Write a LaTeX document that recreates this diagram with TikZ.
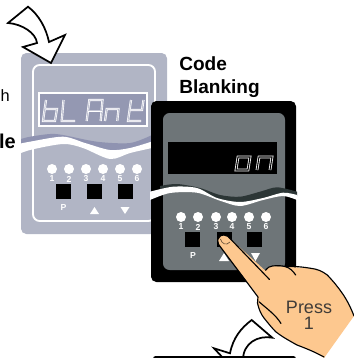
\documentclass[tikz,border=0pt]{standalone}
\usepackage{fontspec}
\setmainfont{Liberation Sans}
\definecolor{graymeter}{HTML}{B1B5C5}
\definecolor{graydisp}{HTML}{9498B2}
\definecolor{grayband}{HTML}{8F93B1}
\definecolor{blkinner}{HTML}{6E7578}
\definecolor{blkband}{HTML}{2C3636}
\definecolor{handfill}{HTML}{FDC88F}
\definecolor{presstxt}{HTML}{403C38}
\tikzset{
  curvedarrow/.style={draw=black,fill=white,line width=1.3pt,line join=miter},
  btn/.style={fill=black},
  led/.style={fill=white},
  ledlabel/.style={text=white,inner sep=0pt,font=\fontsize{6.5}{6.5}\selectfont\bfseries},
  keymark/.style={fill=white},
  segA/.style={draw=white,line width=.5pt,double=graydisp!55!white,double distance=.65pt,line join=miter},
  segB/.style={draw=white,line width=.6pt,double=black,double distance=.8pt,line join=miter},
  heading/.style={inner sep=0pt,anchor=base west,font=\fontsize{14.3}{16}\selectfont\bfseries},
  presslabel/.style={inner sep=0pt,anchor=base,text=presstxt,font=\fontsize{13.5}{16}\selectfont},
  handline/.style={draw=black,line width=.85pt,line cap=round,line join=round}
}
\begin{document}
\begin{tikzpicture}[x=.75pt,y=-.75pt]
\useasboundingbox (0,0) rectangle (354,358);
\clip (0,0) rectangle (354,358);
% clipped side labels
\node[inner sep=0pt,anchor=base east,font=\fontsize{12.3}{14}\selectfont] (frag1) at (10,101) {h};
\node[inner sep=0pt,anchor=base east,font=\fontsize{15}{16}\selectfont\bfseries] (frag2) at (16,148) {le};
% gray meter
\fill[graymeter,rounded corners=4pt] (21,53) rectangle (167,234);
\draw[white,line width=1.4pt,rounded corners=5pt] (33,65) rectangle (155,221);
\draw[white,fill=graydisp,line width=.8pt] (39,93) rectangle (147,126);
% bLAnt
\draw[segA] (46,100) -- (43,121) -- (55,121) -- (57,109) -- (44.5,109);
\draw[segA] (63.5,100) -- (61.7,121) -- (75,121);
\draw[segA] (86.7,121) -- (89.3,100) -- (102.5,100) -- (100.7,121);
\draw[segA] (88,110.7) -- (101.5,110.7);
\draw[segA] (105,121) -- (106.7,109) -- (118.5,109) -- (117.3,121);
\draw[segA] (131,100) -- (128,121) -- (141,121);
\draw[segA] (129.5,110) -- (142,110) -- (143.5,100);
% gray wave
\fill[grayband] plot[smooth] coordinates {(21,139) (30,136.7) (50,134) (63,135) (97,141.7) (130,143) (152,135)} -- (152,143) -- plot[smooth] coordinates {(152,143) (130,149) (110,151) (85,144) (63,137) (30,142) (21,144)} -- cycle;
\fill[white] plot[smooth] coordinates {(14,145) (30,141.7) (63,136.7) (85,143) (110,150) (130,148) (152,141.5)} -- plot[smooth] coordinates {(152,148) (130,153) (110,159) (83,148) (63,144) (30,150) (14,156)} -- cycle;
% gray meter keys
\foreach \x/\n [count=\i] in {52/1,69/2,86/3,103/4,120/5,137/6}{
  \fill[led] (\x,169) circle[radius=5];
  \node[ledlabel] (ga\i) at (\x,179) {\n};
}
\fill[btn] (56,184) rectangle (71,199);
\fill[btn] (87,184) rectangle (102,199);
\fill[btn] (118,184) rectangle (133,199);
\node[ledlabel] (gp) at (63.5,208) {P};
\fill[keymark] (94.5,207) -- (99,214) -- (90,214) -- cycle;
\fill[keymark] (120.5,207) -- (129.5,207) -- (125,214) -- cycle;
% top arrow
\draw[curvedarrow] (8,23) -- (28,6.7) .. controls (39,15) and (46,28) .. (49,42) -- (65,35) -- (51,63) -- (23,47) -- (37,43) .. controls (36,33) and (22,24) .. (8,23) -- cycle;
% heading
\node[heading] (code) at (179,70.7) {Code};
\node[heading] (blank) at (179,93.3) {Blanking};
% black meter
\fill[black,rounded corners=4pt] (151,101) rectangle (296,282);
\fill[blkinner,rounded corners=5pt] (163,113) rectangle (285,270);
\fill[black] (168,142) rectangle (277,174);
% on
\draw[segB] (236,170) -- (238,157) -- (250,157) -- (248,170) -- cycle;
\draw[segB] (257,170) -- (259,157) -- (272,157) -- (270,170);
% black wave
\fill[blkband] plot[smooth] coordinates {(160,186) (177,184) (200,188) (220,195) (240,196.7) (260,191.7) (277,187.3) (297,191.7)} -- plot[smooth] coordinates {(297,196) (283,193.7) (263,199) (240,203) (217,199) (197,189) (173,187.7) (160,190)} -- cycle;
\fill[white] plot[smooth] coordinates {(150,191.7) (173,186.7) (197,188) (217,198) (240,202) (263,198) (283,192.7) (297,195)} -- plot[smooth] coordinates {(297,200) (283,196) (263,200) (240,206) (220,200.7) (197,192.7) (170,193) (150,200)} -- cycle;
% black meter keys
\foreach \x/\n [count=\i] in {181/1,198/2,216/3,232/4,249/5,266/6}{
  \fill[led] (\x,217) circle[radius=5];
  \node[ledlabel] (ba\i) at (\x,227) {\n};
}
\fill[btn] (185,232) rectangle (200,247);
\fill[btn] (217,232) rectangle (232,247);
\fill[btn] (247,232) rectangle (262,247);
\node[ledlabel] (bp) at (193,256) {P};
\fill[keymark] (224,253) -- (229,261) -- (219,261) -- cycle;
\fill[keymark] (251,253) -- (260,253) -- (255.5,261) -- cycle;
% bottom arrow and bar
\draw[curvedarrow] (214,348.3) -- (230,353.3) .. controls (233,338) and (241,328) .. (251.7,320) -- (272.3,337.7) .. controls (258,335) and (243,343) .. (243,360) -- (225,360) -- cycle;
\fill[black,rounded corners=2pt] (153,356) rectangle (296,364);
% hand
\fill[handfill] (218,240) .. controls (219,236) and (222,234.5) .. (224,235) .. controls (227,235) and (229,237) .. (231,239.5) -- (265.7,271) .. controls (267,268) and (270,266) .. (272.3,266) -- (285.7,266.7) -- (310.7,268.3) .. controls (317,269) and (322,271) .. (327.3,275) .. controls (333,281) and (338,287) .. (342.3,293.3) .. controls (347,300) and (351,308) .. (354,316) -- (324,358) .. controls (315,352) and (305,348) .. (297,345) .. controls (288,340) and (281,336) .. (275.7,331.7) .. controls (270,325) and (266,320) .. (264,318) .. controls (260,312) and (258,307) .. (257,303) -- (257.3,295) -- (219,245) -- cycle;
\draw[handline] (257.5,303) -- (258,297) -- (219,245) .. controls (217.5,242) and (217.5,240) .. (218,239) .. controls (219,236) and (222,234.5) .. (224,235) .. controls (227,235) and (229,237) .. (231,239.5) -- (269.5,279.5);
\draw[handline] (265.7,270) .. controls (267,268) and (270,266) .. (272.3,266) .. controls (277,265.5) and (282,265.5) .. (285.7,266.7) .. controls (290,268) and (293,271) .. (295.7,275);
\draw[handline] (285.7,266.7) .. controls (294,266) and (303,267) .. (310.7,268.3) .. controls (317,269) and (322,271) .. (327.3,275) .. controls (333,281) and (338,287) .. (342.3,293.3) .. controls (347,300) and (351,308) .. (354,316);
\draw[handline] (257.5,303) .. controls (259,310) and (261,314) .. (264,318) .. controls (268,323) and (272,328) .. (275.7,331.7) .. controls (281,336) and (288,340) .. (297,345) .. controls (305,348) and (315,352) .. (324,357);
\draw[handline] (259,301.7) .. controls (266,308) and (276,315) .. (281,323.5);
\draw[draw=black!60!handfill,line width=.5pt] (220.5,239) .. controls (222,244) and (226,246) .. (230,242);
\node[presslabel] (press) at (309,313.3) {Press};
\node[presslabel] (one) at (309,329.3) {1};
\end{tikzpicture}
\end{document}
